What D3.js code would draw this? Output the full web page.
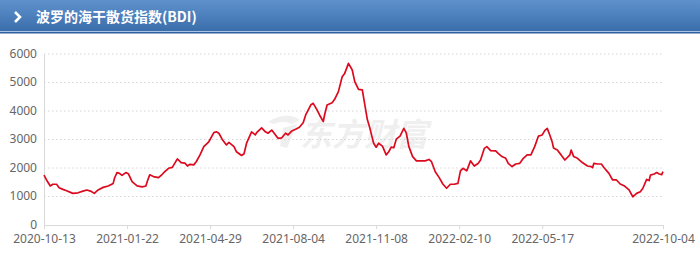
<!DOCTYPE html>
<html>
<head>
<meta charset="utf-8">
<script src="https://cdn.jsdelivr.net/npm/d3@7"></script>
<style>
  body { margin: 0; background: #fff; }
  svg { display: block; }
</style>
</head>
<body>
<svg id="chart"></svg>
<script>
// Dimensions
const width = 700;
const height = 255;

const margin = {
    top: 54,
    right: 37,
    bottom: 30,
    left: 44
};

// Data (trading-day index on a category axis, BDI value)
const title = "波罗的海干散货指数(BDI)";
const tickDays = [0, 66, 132, 198, 264, 330, 396, 492];
const tickLabels = ["2020-10-13", "2021-01-22", "2021-04-29", "2021-08-04",
                    "2021-11-08", "2022-02-10", "2022-05-17", "2022-10-04"];
const yTicks = [0, 1000, 2000, 3000, 4000, 5000, 6000];

const days = [0, 2, 5, 7, 10, 12, 15, 18, 21, 23, 27, 31, 34, 37, 40, 43, 47, 51, 55, 56,
              58, 60, 62, 65, 67, 70, 74, 78, 81, 82, 84, 87, 91, 94, 96, 99, 102, 106, 109, 112,
              114, 116, 119, 121, 124, 127, 131, 135, 137, 139, 142, 145, 147, 151, 153, 157, 159, 161, 165, 168,
              169, 173, 176, 178, 181, 184, 186, 189, 192, 194, 197, 200, 203, 206, 208, 212, 214, 217, 219, 222,
              223, 225, 229, 231, 234, 237, 239, 242, 245, 247, 250, 253, 257, 259, 262, 264, 266, 269, 272, 274,
              276, 278, 280, 283, 286, 288, 290, 293, 296, 300, 303, 306, 308, 311, 314, 317, 320, 323, 326, 329,
              331, 333, 336, 339, 342, 345, 347, 350, 352, 355, 359, 361, 364, 367, 369, 372, 375, 378, 381, 384,
              387, 390, 393, 396, 398, 400, 402, 404, 405, 408, 411, 414, 418, 419, 421, 424, 427, 429, 432, 435,
              436, 437, 440, 443, 445, 449, 452, 455, 458, 461, 465, 468, 471, 474, 476, 479, 481, 482, 485, 487,
              489, 491, 492];

const bdi = [1750, 1580, 1370, 1430, 1430, 1310, 1250, 1200, 1145, 1110, 1130, 1190, 1230, 1190, 1110, 1230, 1320, 1370, 1460, 1640,
             1840, 1810, 1740, 1840, 1800, 1520, 1370, 1340, 1370, 1520, 1760, 1700, 1660, 1780, 1870, 1990, 2020, 2320, 2190, 2170,
             2070, 2130, 2110, 2220, 2460, 2750, 2920, 3240, 3270, 3220, 2980, 2810, 2900, 2750, 2570, 2440, 2500, 2870, 3270, 3160,
             3240, 3410, 3270, 3220, 3330, 3160, 3040, 3060, 3220, 3160, 3300, 3360, 3430, 3590, 3860, 4210, 4270, 4040, 3860, 3630,
             3860, 4210, 4290, 4410, 4680, 5200, 5320, 5670, 5440, 5030, 4760, 4740, 3700, 3400, 2870, 2730, 2870, 2770, 2460, 2570,
             2730, 2710, 3010, 3120, 3390, 3220, 2750, 2400, 2250, 2250, 2250, 2300, 2220, 1870, 1670, 1440, 1290, 1430, 1430, 1460,
             1900, 1990, 1900, 2250, 2070, 2160, 2280, 2690, 2750, 2610, 2600, 2510, 2400, 2340, 2160, 2050, 2140, 2160, 2340, 2460,
             2460, 2750, 3120, 3160, 3310, 3390, 3160, 2900, 2700, 2630, 2460, 2280, 2460, 2630, 2400, 2340, 2220, 2160, 2070, 2050,
             2010, 2160, 2140, 2140, 2020, 1810, 1580, 1580, 1440, 1380, 1230, 990, 1110, 1170, 1290, 1600, 1560, 1750, 1790, 1840,
             1790, 1770, 1870];

const series = days.map((d, i) => ({ day: d, value: bdi[i] }));

const svg = d3.select("#chart")
    .attr("width", width)
    .attr("height", height);

// Header bar
const defs = svg.append("defs");
const grad = defs.append("linearGradient")
    .attr("id", "headGrad")
    .attr("x1", 0).attr("y1", 0).attr("x2", 0).attr("y2", 1);
grad.append("stop").attr("offset", "0%").attr("stop-color", "#5f92cd");
grad.append("stop").attr("offset", "100%").attr("stop-color", "#3a6eab");

svg.append("rect")
    .attr("x", 0).attr("y", 0)
    .attr("width", width).attr("height", 31)
    .attr("fill", "url(#headGrad)");

svg.append("rect")
    .attr("x", 0).attr("y", 31)
    .attr("width", width).attr("height", 1)
    .attr("fill", "#a9c4e4");

svg.append("rect")
    .attr("x", 0).attr("y", 32)
    .attr("width", width).attr("height", 1.5)
    .attr("fill", "#2f619f");

svg.append("path")
    .attr("d", "M15,12 L20,17 L15,22")
    .attr("fill", "none")
    .attr("stroke", "#fff")
    .attr("stroke-width", 2.6);

svg.append("text")
    .attr("x", 36)
    .attr("y", 21.5)
    .attr("fill", "#fff")
    .attr("font-family", "'Noto Sans CJK SC', 'Noto Sans', sans-serif")
    .attr("font-weight", "bold")
    .attr("font-size", "14px")
    .text(title);

// Scales
const x = d3.scaleLinear()
    .domain([0, d3.max(tickDays)])
    .range([margin.left, width - margin.right]);

const y = d3.scaleLinear()
    .domain([0, d3.max(yTicks)])
    .range([height - margin.bottom, margin.top]);

// Watermark
const wm = svg.append("g")
    .attr("opacity", 0.06);
wm.append("path")
    .attr("d", "M268,122 C280,114 292,114 300,120 L292,124 C286,121 280,121 274,124 Z M283,128 L297,124 L287,148 L280,146 Z")
    .attr("fill", "#000");
wm.append("text")
    .attr("x", 300)
    .attr("y", 146)
    .attr("font-family", "'Noto Sans CJK SC', sans-serif")
    .attr("font-weight", "bold")
    .attr("font-style", "italic")
    .attr("font-size", "32px")
    .attr("fill", "#000")
    .text("东方财富");

// Gridlines
svg.append("g")
    .selectAll("line")
    .data(yTicks.filter(d => d > 0))
    .join("line")
    .attr("x1", margin.left)
    .attr("x2", width - margin.right)
    .attr("y1", d => y(d))
    .attr("y2", d => y(d))
    .attr("stroke", "#d6d6d6")
    .attr("stroke-width", 1)
    .attr("stroke-dasharray", "1.5,2.5");

// Axes
const xAxis = svg.append("g")
    .attr("transform", `translate(0,${height - margin.bottom})`)
    .call(
        d3.axisBottom(x)
            .tickValues(tickDays)
            .tickFormat((d, i) => tickLabels[i])
            .tickSize(4)
            .tickSizeOuter(0)
            .tickPadding(5)
    );

const yAxis = svg.append("g")
    .attr("transform", `translate(${margin.left},0)`)
    .call(
        d3.axisLeft(y)
            .tickValues(yTicks)
            .tickFormat(d3.format("d"))
            .tickSize(0)
            .tickPadding(7)
    );

yAxis.selectAll(".tick text").attr("dy", "0.28em");

[xAxis, yAxis].forEach(g => {
    g.select(".domain").attr("stroke", "#d9d9d9");
    g.selectAll(".tick line").attr("stroke", "#d9d9d9");
    g.selectAll(".tick text")
        .attr("fill", "#666")
        .attr("font-size", "12px")
        .attr("font-family", "'Noto Sans', 'Open Sans', sans-serif");
});

// Line
const line = d3.line()
    .x(d => x(d.day))
    .y(d => y(d.value));

svg.append("path")
    .datum(series)
    .attr("fill", "none")
    .attr("stroke", "#dc0a1e")
    .attr("stroke-width", 1.7)
    .attr("stroke-linejoin", "round")
    .attr("d", line);
</script>
</body>
</html>
